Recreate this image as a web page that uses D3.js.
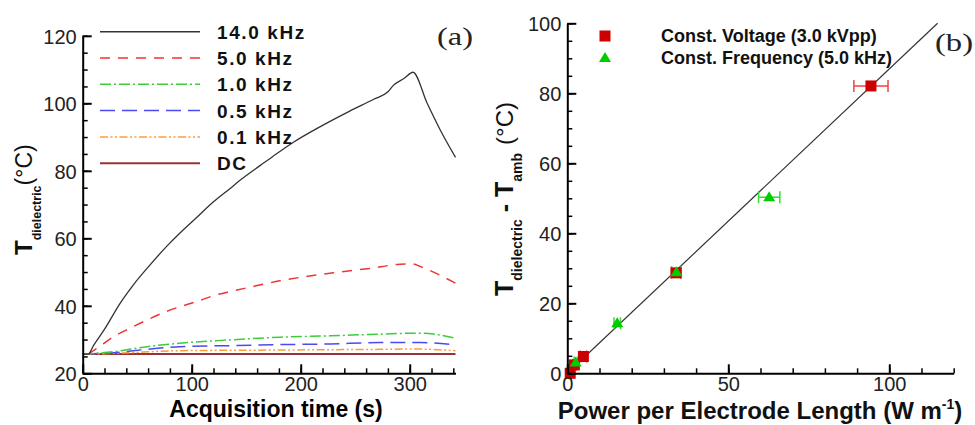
<!DOCTYPE html>
<html>
<head>
<meta charset="utf-8">
<script src="https://cdn.jsdelivr.net/npm/d3@7/dist/d3.min.js"></script>
<style>
    body { margin: 0; background: #fff; }
    svg { display: block; font-family: "Liberation Sans", Arial, sans-serif; }
    .axis .domain { stroke: #000; stroke-width: 2; }
    .axis .tick line { stroke: #000; stroke-width: 2; }
    .axis.minor .tick line { stroke-width: 1.5; }
    .axis text { font-size: 20px; fill: #222; font-family: "Liberation Sans", Arial, sans-serif; }
</style>
</head>
<body>
<svg id="chart" width="975" height="425"></svg>
<script>
// ---- panel (a): dielectric temperature vs acquisition time ----
const seriesNames = ['14.0 kHz', '5.0 kHz', '1.0 kHz', '0.5 kHz', '0.1 kHz', 'DC'];
const seriesColors = ['#333333', '#ee3535', '#3ccc3c', '#4a4af0', '#ff9a3c', '#993333'];
const seriesDash = ['none', '10,8', '11,3,2,3', '15,7', '8,2.5,2,2.5,2,2.5', 'none'];
const seriesWidth = [1.3, 1.5, 1.5, 1.5, 1.5, 2];

const temp14kHz = [[0, 25.7], [5, 25.7], [10, 28.3], [20.5, 33.3], [34, 40.6], [46, 46], [62, 52.2],
    [77, 57.6], [89, 61.5], [103, 65.7], [120, 70.8], [135, 74.7], [144, 77.1], [163, 81.6], [175, 84.4],
    [193, 88.4], [218, 93.1], [245, 97.7], [267, 101.2], [280, 103.4], [285, 105.3], [295, 107.4],
    [303, 109.2], [316, 100], [328, 92.1], [342, 84]];
const temp5kHz = [[5, 25.7], [14, 27.6], [28, 30.8], [43, 33.3], [59, 35.8], [75, 38.1], [89, 39.7],
    [105, 41.3], [120, 43], [138, 44.4], [156, 45.7], [181, 47.4], [199, 48.4], [230, 49.8],
    [264, 51.1], [291, 52.3], [303, 52.4], [310, 51.6], [342, 46.7]];
const temp1kHz = [[0, 25.7], [10, 25.9], [28, 26.4], [59, 27.9], [89, 28.9], [135, 29.9], [181, 30.7],
    [227, 31.1], [273, 31.6], [310, 31.9], [342, 30.4]];
const temp05kHz = [[0, 25.7], [10, 25.8], [28, 26.1], [59, 27.1], [89, 27.9], [135, 28.2], [181, 28.5],
    [227, 28.7], [273, 29.1], [310, 29.1], [342, 28.4]];
const temp01kHz = [[0, 25.7], [28, 25.9], [89, 26.7], [181, 26.9], [273, 27.1], [303, 27.2], [342, 26.7]];
const tempDC = [[0, 25.7], [342, 25.7]];
const seriesData = [temp14kHz, temp5kHz, temp1kHz, temp05kHz, temp01kHz, tempDC];

const timeMajorTicks = [0, 100, 200, 300];
const timeMinorTicks = d3.range(0, 341, 20);
const tempMajorTicks = [20, 40, 60, 80, 100, 120];
const tempMinorTicks = d3.range(20, 121, 5);

// ---- panel (b): temperature rise vs power per electrode length ----
const voltPower = [0.9, 2.2, 5, 33.8, 94.3];
const voltRise = [0, 2.4, 4.8, 28.7, 82.1];
const voltErr = [0.3, 0.5, 1, 1.5, 5.3];
const freqPower = [2.6, 15.5, 33.9, 62.7];
const freqRise = [3.1, 14.3, 28.9, 50.3];
const freqErr = [0.5, 1, 1.5, 3.3];
const fitPower = [0, 115];
const fitRise = [0, 100];
const legendB = ['Const. Voltage (3.0 kVpp)', 'Const. Frequency (5.0 kHz)'];

const powerMajorTicks = [0, 50, 100];
const powerMinorTicks = d3.range(0, 121, 10);
const riseMajorTicks = [0, 20, 40, 60, 80, 100];
const riseMinorTicks = d3.range(0, 101, 5);

const svg = d3.select('#chart');

function drawAxes(g, xScale, yScale, xMajor, xMinor, yMajor, yMinor) {
    const h = yScale.range()[0];
    g.append('g').attr('class', 'axis minor').attr('transform', `translate(0,${h})`)
        .call(d3.axisBottom(xScale).tickValues(xMinor).tickSize(-5).tickFormat(''))
        .call(s => s.select('.domain').remove());
    g.append('g').attr('class', 'axis minor').attr('transform', `translate(${xScale.range()[0]},0)`)
        .call(d3.axisLeft(yScale).tickValues(yMinor).tickSize(-5).tickFormat(''))
        .call(s => s.select('.domain').remove());
    g.append('g').attr('class', 'axis').attr('transform', `translate(0,${h})`)
        .call(d3.axisBottom(xScale).tickValues(xMajor).tickSize(-9).tickSizeOuter(0).tickPadding(4));
    g.append('g').attr('class', 'axis').attr('transform', `translate(${xScale.range()[0]},0)`)
        .call(d3.axisLeft(yScale).tickValues(yMajor).tickSize(-9).tickSizeOuter(0).tickPadding(6))
        .selectAll('text').attr('dy', '0.36em');
}

// panel (a)
const xA = d3.scaleLinear().domain([0, 342]).range([82.7, 455.5]);
const yA = d3.scaleLinear().domain([20, 120]).range([373.3, 35.8]);
const gA = svg.append('g');

const lineA = d3.line().x(d => xA(d[0])).y(d => yA(d[1])).curve(d3.curveMonotoneX);
seriesData.slice().reverse().forEach((data, j) => {
    const i = seriesData.length - 1 - j;
    gA.append('path')
        .datum(data)
        .attr('fill', 'none')
        .attr('stroke', seriesColors[i])
        .attr('stroke-width', seriesWidth[i])
        .attr('stroke-dasharray', seriesDash[i])
        .attr('d', lineA);
});

drawAxes(gA, xA, yA, timeMajorTicks, timeMinorTicks, tempMajorTicks, tempMinorTicks);

const legA = gA.append('g');
seriesNames.forEach((name, i) => {
    const ly = 31.7 + i * 26.3;
    legA.append('line')
        .attr('x1', 100).attr('x2', 200).attr('y1', ly).attr('y2', ly)
        .attr('stroke', seriesColors[i])
        .attr('stroke-width', i === 5 ? 2 : 1.5)
        .attr('stroke-dasharray', seriesDash[i]);
    legA.append('text')
        .attr('x', 217).attr('y', ly + 7)
        .style('font-size', '19px').style('font-weight', 'bold')
        .style('letter-spacing', '1.6px')
        .attr('fill', '#111')
        .text(name);
});

gA.append('text')
    .attr('x', 276).attr('y', 417)
    .attr('text-anchor', 'middle')
    .style('font-size', '23px').style('font-weight', 'bold')
    .text('Acquisition time (s)');

const yLabA = gA.append('text')
    .attr('transform', 'translate(32,255) rotate(-90)')
    .attr('fill', '#111');
yLabA.append('tspan').style('font-size', '24px').style('font-weight', 'bold').text('T');
yLabA.append('tspan').attr('dy', 9).style('font-size', '12.5px').style('font-weight', 'bold').text('dielectric');
yLabA.append('tspan').attr('dy', -9).style('font-size', '23px').text('(°C)');

gA.append('text')
    .attr('x', 437).attr('y', 45)
    .style('font-family', '"Liberation Serif", "Times New Roman", serif')
    .style('font-size', '25px').style('font-weight', 'normal')
    .attr('fill', '#222')
    .attr('textLength', 36).attr('lengthAdjust', 'spacingAndGlyphs')
    .text('(a)');

// panel (b)
const xB = d3.scaleLinear().domain([0, 120]).range([567.3, 953.7]);
const yB = d3.scaleLinear().domain([0, 100]).range([373.3, 23.3]);
const gB = svg.append('g');

gB.append('line')
    .attr('x1', xB(fitPower[0])).attr('y1', yB(fitRise[0]))
    .attr('x2', xB(fitPower[1])).attr('y2', yB(fitRise[1]))
    .attr('stroke', '#333').attr('stroke-width', 1.2);

const wideTriangle = {
    draw(ctx, size) {
        const w = Math.sqrt(size) * 1.2, h = Math.sqrt(size);
        ctx.moveTo(0, -h * 0.6);
        ctx.lineTo(w / 2, h * 0.4);
        ctx.lineTo(-w / 2, h * 0.4);
        ctx.closePath();
    }
};

function drawErrorBars(px, py, err, color) {
    px.forEach((p, i) => {
        const y = yB(py[i]);
        const x0 = xB(p - err[i]), x1 = xB(p + err[i]);
        gB.append('path')
            .attr('d', `M${x0},${y}H${x1}M${x0},${y - 6}V${y + 6}M${x1},${y - 6}V${y + 6}`)
            .attr('fill', 'none').attr('stroke', color).attr('stroke-width', 1.5);
    });
}
drawErrorBars(voltPower, voltRise, voltErr, '#ee4444');
drawErrorBars(freqPower, freqRise, freqErr, '#33dd33');

gB.selectAll('.sq')
    .data(voltPower)
    .enter()
    .append('path')
    .attr('class', 'sq')
    .attr('transform', (d, i) => `translate(${xB(d)},${yB(voltRise[i])})`)
    .attr('d', d3.symbol(d3.symbolSquare, 121))
    .attr('fill', '#cc0000');

gB.selectAll('.tri')
    .data(freqPower)
    .enter()
    .append('path')
    .attr('class', 'tri')
    .attr('transform', (d, i) => `translate(${xB(d)},${yB(freqRise[i])})`)
    .attr('d', d3.symbol(wideTriangle, 100))
    .attr('fill', '#00cc00');

drawAxes(gB, xB, yB, powerMajorTicks, powerMinorTicks, riseMajorTicks, riseMinorTicks);

// legend (b)
gB.append('path')
    .attr('transform', 'translate(605,36)')
    .attr('d', d3.symbol(d3.symbolSquare, 121))
    .attr('fill', '#cc0000');
gB.append('path')
    .attr('transform', 'translate(605,58)')
    .attr('d', d3.symbol(wideTriangle, 100))
    .attr('fill', '#00cc00');
legendB.forEach((name, i) => {
    gB.append('text')
        .attr('x', 661).attr('y', 42 + i * 21.5)
        .style('font-size', '18px').style('font-weight', 'bold')
        .attr('fill', '#111')
        .text(name);
});

const xLabB = gB.append('text')
    .attr('x', 760).attr('y', 419)
    .attr('text-anchor', 'middle')
    .style('font-size', '24px').style('font-weight', 'bold')
    .attr('fill', '#111');
xLabB.append('tspan').text('Power per Electrode Length (W  m');
xLabB.append('tspan').attr('dy', -10).style('font-size', '14px').text('-1');
xLabB.append('tspan').attr('dy', 10).text(')');

const yLabB = gB.append('text')
    .attr('transform', 'translate(513,296) rotate(-90)')
    .attr('fill', '#111');
yLabB.append('tspan').style('font-size', '25px').style('font-weight', 'bold').text('T');
yLabB.append('tspan').attr('dy', 9).style('font-size', '14px').style('font-weight', 'bold').text('dielectric');
yLabB.append('tspan').attr('dy', -9).style('font-size', '25px').style('font-weight', 'bold').text(' - ');
yLabB.append('tspan').style('font-size', '25px').style('font-weight', 'bold').text('T');
yLabB.append('tspan').attr('dy', 9).style('font-size', '14px').style('font-weight', 'bold').text('amb');
yLabB.append('tspan').attr('dy', -9).attr('dx', 8).style('font-size', '24px').text('(°C)');

gB.append('text')
    .attr('x', 935).attr('y', 51)
    .style('font-family', '"Liberation Serif", "Times New Roman", serif')
    .style('font-size', '25px').style('font-weight', 'normal')
    .attr('fill', '#222')
    .attr('textLength', 38).attr('lengthAdjust', 'spacingAndGlyphs')
    .text('(b)');
</script>
</body>
</html>
